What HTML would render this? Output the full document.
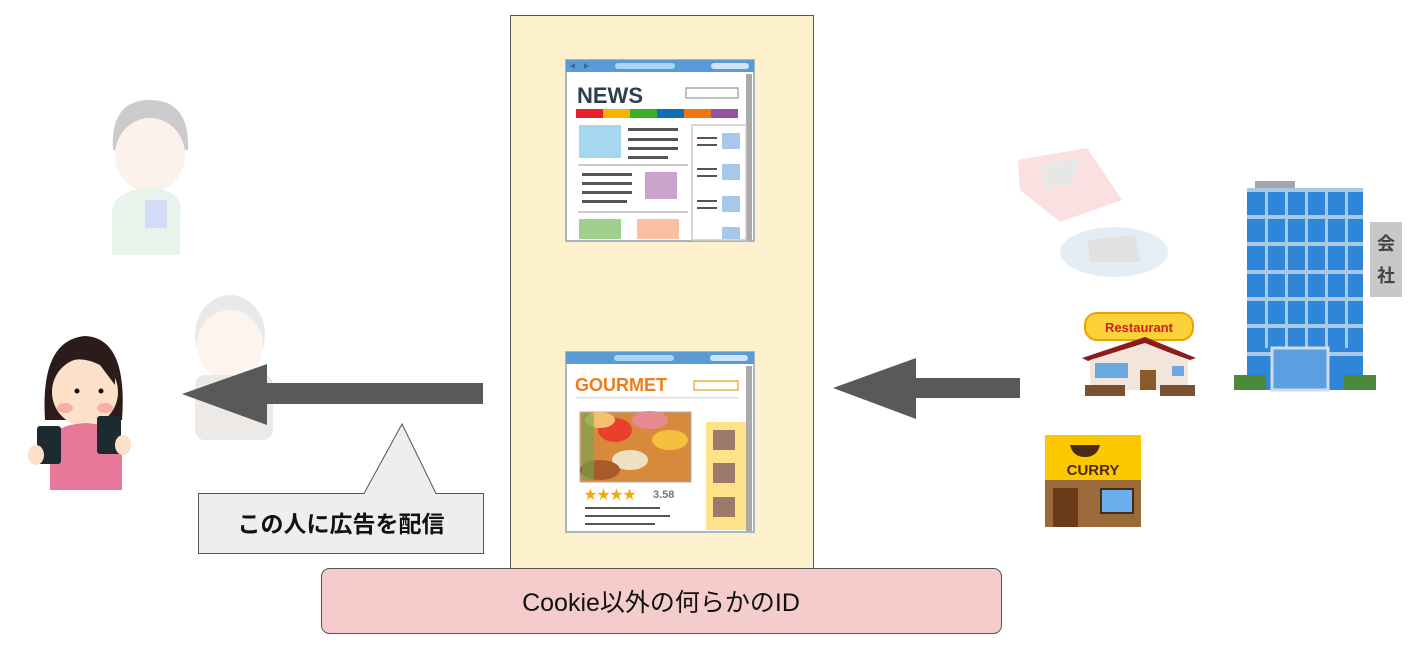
<!DOCTYPE html>
<html><head><meta charset="utf-8"><style>
html,body{margin:0;padding:0;background:#fff;}
body{width:1427px;height:647px;overflow:hidden;position:relative;font-family:"Liberation Sans","Noto Sans CJK JP",sans-serif;}
</style></head><body>
<svg width="1427" height="647" viewBox="0 0 1427 647" xmlns="http://www.w3.org/2000/svg" style="position:absolute;left:0;top:0">
<!-- yellow column -->
<rect x="510.5" y="15.5" width="303" height="556" fill="#fdf1cd" stroke="#555" stroke-width="1"/>

<!-- NEWS browser -->
<g>
<rect x="566" y="60" width="188" height="181" fill="#fff" stroke="#a8b4c0" stroke-width="2"/>
<rect x="566" y="60" width="188" height="12" fill="#5b9bd5"/>
<rect x="615" y="63" width="60" height="6" rx="3" fill="#a9d4f2"/>
<rect x="711" y="63" width="38" height="6" rx="3" fill="#cfe4f5"/>
<polygon points="570,66 575,63 575,69" fill="#3a6a98"/><polygon points="584,63 589,66 584,69" fill="#3a6a98"/>
<rect x="746" y="74" width="6" height="166" fill="#aaa"/>
<text x="577" y="103" font-size="22" font-weight="bold" fill="#2d3e4e" font-family="Liberation Sans,sans-serif">NEWS</text>
<rect x="686" y="88" width="52" height="10" fill="#fff" stroke="#aaa" stroke-width="1.5"/>
<rect x="576" y="109" width="27" height="9" fill="#e8202a"/><rect x="603" y="109" width="27" height="9" fill="#f9b200"/><rect x="630" y="109" width="27" height="9" fill="#3bae2a"/><rect x="657" y="109" width="27" height="9" fill="#0d6fb8"/><rect x="684" y="109" width="27" height="9" fill="#f3750f"/><rect x="711" y="109" width="27" height="9" fill="#9553a4"/>
<rect x="579" y="125" width="42" height="33" fill="#a5d7f0"/>
<rect x="628" y="128" width="50" height="3" fill="#555"/><rect x="628" y="138" width="50" height="3" fill="#555"/><rect x="628" y="147" width="50" height="3" fill="#555"/><rect x="628" y="156" width="40" height="3" fill="#555"/>
<rect x="578" y="164" width="110" height="2" fill="#ccc"/>
<rect x="645" y="172" width="32" height="27" fill="#c9a3cc"/>
<rect x="582" y="173" width="50" height="3" fill="#555"/><rect x="582" y="182" width="50" height="3" fill="#555"/><rect x="582" y="191" width="50" height="3" fill="#555"/><rect x="582" y="200" width="45" height="3" fill="#555"/>
<rect x="578" y="211" width="110" height="2" fill="#ccc"/>
<rect x="579" y="219" width="42" height="20" fill="#9fd08e"/><rect x="637" y="219" width="42" height="20" fill="#fbbfa4"/>
<rect x="692" y="125" width="54" height="115" fill="#fff" stroke="#ccc" stroke-width="1.5"/>
<rect x="722" y="133" width="18" height="16" fill="#a9c6ec"/><rect x="722" y="164" width="18" height="16" fill="#a9c6ec"/><rect x="722" y="196" width="18" height="16" fill="#a9c6ec"/><rect x="722" y="227" width="18" height="12" fill="#a9c6ec"/>
<rect x="697" y="137" width="20" height="2" fill="#555"/><rect x="697" y="144" width="20" height="2" fill="#555"/><rect x="697" y="168" width="20" height="2" fill="#555"/><rect x="697" y="175" width="20" height="2" fill="#555"/><rect x="697" y="200" width="20" height="2" fill="#555"/><rect x="697" y="207" width="20" height="2" fill="#555"/>
</g>

<!-- GOURMET browser -->
<g>
<rect x="566" y="352" width="188" height="180" fill="#fff" stroke="#a8b4c0" stroke-width="2"/>
<rect x="566" y="352" width="188" height="12" fill="#5b9bd5"/>
<rect x="614" y="355" width="60" height="6" rx="3" fill="#a9d4f2"/>
<rect x="710" y="355" width="38" height="6" rx="3" fill="#cfe4f5"/>
<rect x="746" y="366" width="6" height="165" fill="#aaa"/>
<text x="575" y="391" font-size="18" font-weight="bold" fill="#f07c17" font-family="Liberation Sans,sans-serif">GOURMET</text>
<rect x="694" y="381" width="44" height="9" fill="#fff" stroke="#f0b040" stroke-width="1.5"/>
<rect x="576" y="397" width="162" height="1.5" fill="#ddd"/>
<rect x="580" y="412" width="111" height="70" fill="#d88a3c" stroke="#aab" stroke-width="1"/>
<ellipse cx="615" cy="430" rx="17" ry="12" fill="#e8402a"/><ellipse cx="600" cy="420" rx="15" ry="8" fill="#f4c070"/><ellipse cx="650" cy="420" rx="18" ry="9" fill="#e88a90"/><ellipse cx="670" cy="440" rx="18" ry="10" fill="#f5c040"/><ellipse cx="630" cy="460" rx="18" ry="10" fill="#eee0c0"/><ellipse cx="600" cy="470" rx="20" ry="10" fill="#a85a2a"/><rect x="582" y="414" width="12" height="66" fill="#6aa84f" opacity="0.6"/>
<rect x="706" y="422" width="40" height="108" fill="#fde28a"/>
<rect x="713" y="430" width="22" height="20" fill="#9c7a6a"/><rect x="713" y="463" width="22" height="20" fill="#9c7a6a"/><rect x="713" y="497" width="22" height="20" fill="#9c7a6a"/>
<text x="584" y="499" font-size="13" fill="#f5a800">★★★★</text><text x="653" y="498" font-size="11" font-weight="bold" fill="#777">3.58</text>
<rect x="585" y="507" width="75" height="2" fill="#555"/><rect x="585" y="515" width="85" height="2" fill="#555"/><rect x="585" y="523" width="70" height="2" fill="#555"/>
</g>

<!-- pink ID box -->
<rect x="321.5" y="568.5" width="680" height="65" rx="8" fill="#f4cccc" stroke="#555" stroke-width="1"/>
<text x="661" y="611" font-size="25" text-anchor="middle" fill="#111" font-family="Liberation Sans,Noto Sans CJK JP,sans-serif">Cookie以外の何らかのID</text>

<!-- faded man -->
<g opacity="0.3">
<path d="M113,150 Q110,100 150,100 Q190,100 188,150 Z" fill="#555"/>
<ellipse cx="150" cy="155" rx="35" ry="37" fill="#fbd7c0"/>
<path d="M112,255 L112,210 Q115,190 150,188 Q185,190 180,215 L180,255 Z" fill="#b5dcc0"/>
<rect x="145" y="200" width="22" height="28" fill="#6f8fe0"/>
</g>
<!-- faded old man -->
<g opacity="0.25">
<ellipse cx="230" cy="335" rx="35" ry="40" fill="#aaa"/>
<ellipse cx="230" cy="345" rx="33" ry="35" fill="#fbd7c0"/>
<rect x="195" y="375" width="78" height="65" rx="10" fill="#b8a89a"/>
</g>

<!-- left arrow -->
<polygon points="483,383 267,383 267,364 182,394 267,425 267,404 483,404" fill="#595959"/>
<!-- right arrow -->
<polygon points="1020,378 916,378 916,358 833,388 916,419 916,398 1020,398" fill="#595959"/>

<!-- callout -->
<path d="M198.5,493.5 H364 L402,424 L436,493.5 H483.5 V553.5 H198.5 Z" fill="#eeeeee" stroke="#555" stroke-width="1"/>
<text x="341" y="532" font-size="23" font-weight="bold" text-anchor="middle" fill="#111" font-family="Liberation Sans,Noto Sans CJK JP,sans-serif">この人に広告を配信</text>

<!-- woman -->
<g>
<path d="M45,420 Q40,340 85,336 Q128,338 122,420 Z" fill="#2b1b1b"/>
<ellipse cx="85" cy="392" rx="33" ry="34" fill="#fde0c8"/>
<path d="M55,375 Q70,350 100,365 L115,385 L115,360 Q100,345 80,348 Q60,350 55,375Z" fill="#2b1b1b"/>
<ellipse cx="65" cy="408" rx="8" ry="5" fill="#f7b0a8"/><ellipse cx="105" cy="408" rx="8" ry="5" fill="#f7b0a8"/>
<circle cx="77" cy="391" r="2.5" fill="#111"/><circle cx="101" cy="391" r="2.5" fill="#111"/>
<path d="M50,490 L50,440 Q55,425 85,423 Q117,425 122,440 L122,490 Z" fill="#e8789a"/>
<rect x="37" y="426" width="24" height="38" rx="3" fill="#1d2a30"/>
<rect x="97" y="416" width="24" height="38" rx="3" fill="#1d2a30"/>
<ellipse cx="36" cy="455" rx="8" ry="10" fill="#fde0c8"/><ellipse cx="123" cy="445" rx="8" ry="10" fill="#fde0c8"/>
</g>

<!-- DS faded -->
<g opacity="0.35">
<polygon points="1018,160 1087,148 1122,200 1060,222 1020,190" fill="#f2a9a9"/>
<polygon points="1040,165 1080,158 1070,185 1045,190" fill="#bbb"/>
<ellipse cx="1114" cy="252" rx="54" ry="25" fill="#b5cde0"/>
<polygon points="1088,240 1135,235 1140,262 1090,262" fill="#aaa"/>
</g>

<!-- building -->
<rect x="1255" y="181" width="40" height="8" fill="#a0a8b0"/>
<rect x="1247" y="188" width="116" height="202" fill="#2f86d8"/>
<g fill="#a8c8e4">
<rect x="1247" y="188" width="116" height="4"/><rect x="1247" y="215" width="116" height="4"/><rect x="1247" y="242" width="116" height="4"/><rect x="1247" y="270" width="116" height="4"/><rect x="1247" y="297" width="116" height="4"/><rect x="1247" y="324" width="116" height="4"/><rect x="1247" y="352" width="116" height="4"/>
<rect x="1265" y="188" width="3" height="160"/><rect x="1285" y="188" width="3" height="160"/><rect x="1305" y="188" width="3" height="160"/><rect x="1325" y="188" width="3" height="160"/><rect x="1345" y="188" width="3" height="160"/>
</g>
<rect x="1272" y="348" width="56" height="42" fill="#5aa0e0" stroke="#d0dce8" stroke-width="3"/>
<rect x="1234" y="375" width="32" height="15" fill="#4a8a3a"/><rect x="1344" y="375" width="32" height="15" fill="#4a8a3a"/>
<rect x="1370" y="222" width="32" height="75" fill="#c8c8c8"/>
<text x="1386" y="250" font-size="18" font-weight="bold" text-anchor="middle" fill="#444" font-family="Noto Sans CJK JP,sans-serif">会</text>
<text x="1386" y="282" font-size="18" font-weight="bold" text-anchor="middle" fill="#444" font-family="Noto Sans CJK JP,sans-serif">社</text>

<!-- restaurant -->
<rect x="1085" y="313" width="108" height="27" rx="12" fill="#fbd23a" stroke="#f0a000" stroke-width="2"/>
<text x="1139" y="332" font-size="13" font-weight="bold" text-anchor="middle" fill="#d0201a" font-family="Liberation Sans,sans-serif">Restaurant</text>
<polygon points="1082,358 1145,337 1196,358 1190,360 1145,344 1088,361" fill="#8c1c1c"/>
<polygon points="1090,360 1145,343 1188,360 1188,390 1090,390" fill="#f2e6dc"/>
<rect x="1095" y="363" width="33" height="15" fill="#6aa8e0"/><rect x="1172" y="366" width="12" height="10" fill="#6aa8e0"/>
<rect x="1140" y="370" width="16" height="20" fill="#8a5a2a"/>
<rect x="1085" y="385" width="40" height="11" fill="#7a5030"/><rect x="1160" y="385" width="35" height="11" fill="#7a5030"/>

<!-- curry -->
<rect x="1045" y="435" width="96" height="45" fill="#fcc800"/>
<rect x="1045" y="480" width="96" height="47" fill="#9a6a3a"/>
<path d="M1070,445 h30 q-3,12 -15,12 q-12,0 -15,-12z" fill="#4a2a10"/>
<text x="1093" y="475" font-size="15" font-weight="bold" text-anchor="middle" fill="#4a2a10" font-family="Liberation Sans,sans-serif">CURRY</text>
<rect x="1053" y="488" width="25" height="39" fill="#6a3a1a"/><rect x="1101" y="489" width="32" height="24" fill="#6ab0ee" stroke="#4a2a10" stroke-width="2"/>
</svg>
</body></html>
